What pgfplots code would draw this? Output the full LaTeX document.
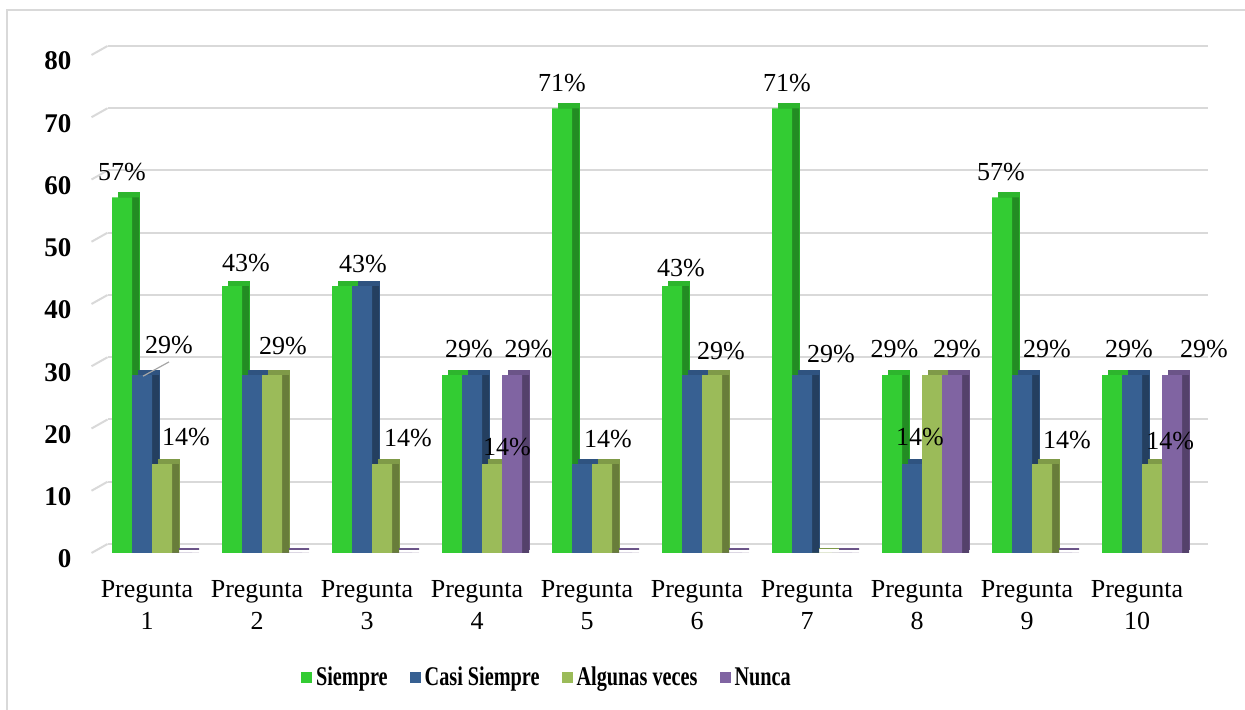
\documentclass[border=0pt]{standalone}
\usepackage{fontspec}
\setmainfont{Liberation Serif}
\usepackage{graphicx}
\usepackage{pgfplots}
\usepackage{pgfplotstable}
\pgfplotsset{compat=1.18}

\definecolor{cS}{HTML}{33CC33}
\definecolor{cStop}{HTML}{2DB52D}
\definecolor{cSside}{HTML}{238C23}
\definecolor{cC}{HTML}{376092}
\definecolor{cCtop}{HTML}{2F5380}
\definecolor{cCside}{HTML}{243F60}
\definecolor{cA}{HTML}{9BBB59}
\definecolor{cAtop}{HTML}{7F9A48}
\definecolor{cAside}{HTML}{687D3A}
\definecolor{cN}{HTML}{8064A2}
\definecolor{cNtop}{HTML}{6B5488}
\definecolor{cNside}{HTML}{54416B}

\pgfplotstableread{
x s c a n
0 57.14 28.57 14.29 0
1 42.86 28.57 28.57 0
2 42.86 42.86 14.29 0
3 28.57 28.57 14.29 28.57
4 71.43 14.29 14.29 0
5 42.86 28.57 28.57 0
6 71.43 28.57 0 0
7 28.57 14.29 28.57 28.57
8 57.14 28.57 14.29 0
9 28.57 28.57 14.29 28.57
}\datatab

\pgfplotstableread{
x y lab
-0.273 61.2 57
0.155 33.4 29
0.309 18.6 14
0.855 46.6 43
1.191 33.3 29
1.918 46.4 43
2.327 18.5 14
2.882 32.8 29
3.423 32.8 29
3.227 17.0 14
3.727 75.5 71
4.145 18.3 14
4.809 45.8 43
5.173 32.4 29
5.773 75.5 71
6.173 32.0 29
6.750 32.8 29
7.318 32.8 29
6.982 18.6 14
7.718 61.2 57
8.136 32.8 29
8.318 18.2 14
8.882 32.8 29
9.564 32.8 29
9.255 18.0 14
}\labtab

\pgfplotsset{
  sq/.style={legend image code/.code={\fill[#1] (0pt,-2.75pt) rectangle (5.5pt,2.75pt);}},
  topbar/.style 2 args={ybar, bar width=10pt, bar shift=#1, fill=#2, draw=#2, line width=0.6pt, yshift=2.25pt, forget plot},
  sidebar/.style 2 args={ybar, bar width=10pt, bar shift=#1, fill=#2, draw=none, forget plot},
  frontbar/.style 2 args={ybar, bar width=10pt, bar shift=#1, fill=#2, draw=none, sq=#2},
}

\begin{document}
\begin{tikzpicture}
\useasboundingbox (0pt,0pt) rectangle (622.5pt,355pt);
\begin{axis}[
  at={(45.75pt,78.5pt)}, anchor=south west,
  width=550pt, height=249pt, scale only axis,
  xmin=-0.55, xmax=9.45, ymin=0, ymax=80,
  clip=false,
  axis line style={draw=none},
  major tick length=0pt,
  ytick={0,10,...,80},
  ymajorgrids,
  major grid style={draw=gray!30, line width=1pt, xshift=8pt, yshift=4.5pt},
  xtick={0,...,9},
  xticklabels={{Pregunta\\1},{Pregunta\\2},{Pregunta\\3},{Pregunta\\4},{Pregunta\\5},{Pregunta\\6},{Pregunta\\7},{Pregunta\\8},{Pregunta\\9},{Pregunta\\10}},
  xticklabel style={align=center, font=\fontsize{13}{16}\selectfont, yshift=-10pt, xshift=-2.5pt},
  yticklabel style={font=\fontsize{13.5}{16}\selectfont\bfseries, xshift=-6.5pt, yshift=-3pt},
  /pgf/number format/assume math mode=true,
  legend columns=4,
  legend style={at={(0.414,-0.251)}, anchor=center, draw=none,
    font=\fontsize{13.5}{16}\selectfont\bfseries,
    nodes={inner sep=1pt},
    /tikz/every odd column/.append style={column sep=1pt},
    /tikz/every even column/.append style={column sep=10pt}},
]
\pgfplotsinvokeforeach{0,10,...,80}{\draw[gray!30, line width=1pt] (axis cs:-0.55,#1) -- ++(8pt,4.5pt);}

\addplot[topbar={-11.5pt}{cStop}] table[x=x,y=s]{\datatab};
\addplot[sidebar={-11.5pt}{cSside}] table[x=x,y=s]{\datatab};
\addplot[frontbar={-15pt}{cS}] table[x=x,y=s]{\datatab};
\addlegendentry{\scalebox{0.75}[1]{Siempre}}

\addplot[topbar={-1.5pt}{cCtop}] table[x=x,y=c]{\datatab};
\addplot[sidebar={-1.5pt}{cCside}] table[x=x,y=c]{\datatab};
\addplot[frontbar={-5pt}{cC}] table[x=x,y=c]{\datatab};
\addlegendentry{\scalebox{0.75}[1]{Casi Siempre}}

\addplot[topbar={8.5pt}{cAtop}] table[x=x,y=a]{\datatab};
\addplot[sidebar={8.5pt}{cAside}] table[x=x,y=a]{\datatab};
\addplot[frontbar={5pt}{cA}] table[x=x,y=a]{\datatab};
\addlegendentry{\scalebox{0.75}[1]{Algunas veces}}

\addplot[topbar={18.5pt}{cNtop}, line width=1.2pt, yshift=-0.3pt] table[x=x,y=n]{\datatab};
\addplot[sidebar={18.5pt}{cNside}] table[x=x,y=n]{\datatab};
\addplot[frontbar={15pt}{cN}] table[x=x,y=n]{\datatab};
\addlegendentry{\scalebox{0.75}[1]{Nunca}}

\addplot[gray!70, line width=0.6pt, forget plot] coordinates {(-0.082,28.4) (0.155,30.7)};

\addplot[draw=none, mark=none, forget plot, nodes near coords={\pgfplotspointmeta\%},
  point meta=explicit symbolic,
  nodes near coords style={anchor=center, inner sep=0pt, font=\fontsize{13}{15}\selectfont}]
  table[x=x, y=y, meta=lab]{\labtab};
\end{axis}
\draw[gray!30, line width=1pt] (3.5pt,0pt) -- (3.5pt,350pt) -- (622.5pt,350pt);
\end{tikzpicture}
\end{document}
